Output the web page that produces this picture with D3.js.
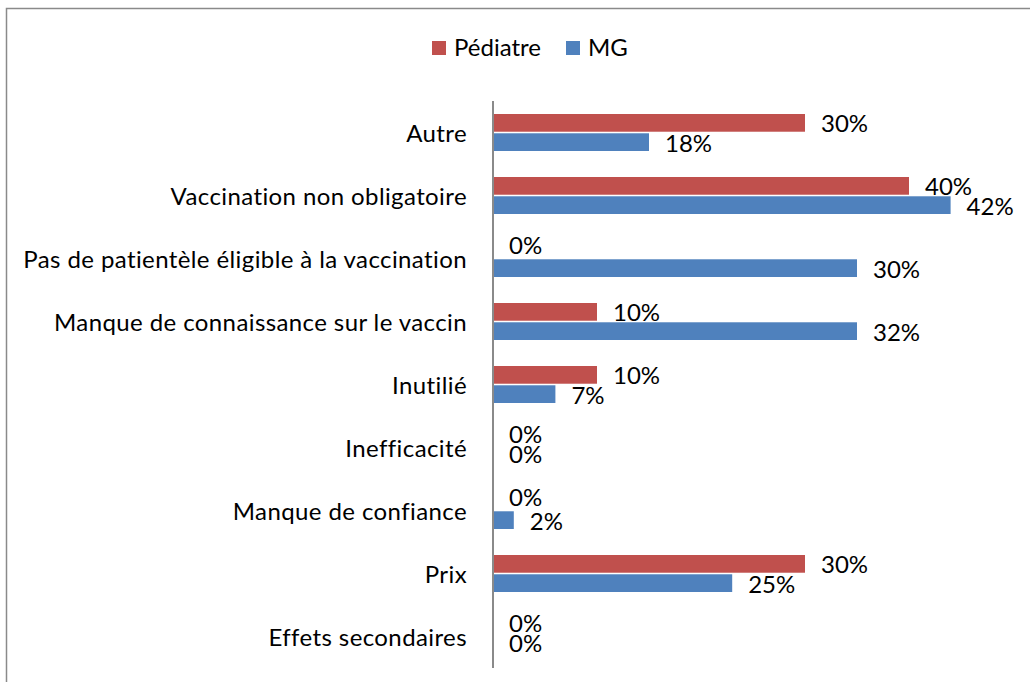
<!DOCTYPE html>
<html lang="fr">
<head>
	<meta charset="UTF-8">
	<title>Pédiatre / MG</title>
	<script src="https://cdn.jsdelivr.net/npm/d3@7"></script>
	<style>
		html,body{
			margin:0;
			padding:0;
			background:#fff;
		}
		svg{
			display:block;
			font-family:Lato, "Open Sans", sans-serif;
		}
	</style>
</head>
<body>
	<svg id="svg" width="1030" height="682"></svg>
	<script>
		// categories, top to bottom
		var categories = [
			"Autre",
			"Vaccination non obligatoire",
			"Pas de patientèle éligible à la vaccination",
			"Manque de connaissance sur le vaccin",
			"Inutilié",
			"Inefficacité",
			"Manque de confiance",
			"Prix",
			"Effets secondaires"
		];
		var series = ["Pédiatre", "MG"];
		var colors = ["#C0504D", "#4F81BD"];

		// bar lengths as drawn (percent)
		var pediatre = [30, 40, 0, 10, 10, 0, 0, 30, 0];
		var mg = [15, 44, 35, 35, 6, 0, 2, 23, 0];

		// data labels as printed on the chart
		var pediatreLabels = ["30%", "40%", "0%", "10%", "10%", "0%", "0%", "30%", "0%"];
		var mgLabels = ["18%", "42%", "30%", "32%", "7%", "0%", "2%", "25%", "0%"];

		var FS = 24;

		(function(){
			var svg = d3.select("#svg");

			// chart frame
			svg.append("rect")
				.attr("x", 6.5).attr("y", 8.5)
				.attr("width", 1100).attr("height", 800)
				.attr("fill", "none")
				.attr("stroke", "#8a8a8a")
				.attr("stroke-width", 1.5);

			var x0 = 493, y0 = 101, y1 = 668;

			var x = d3.scaleLinear().domain([0, 10]).range([x0, x0 + 104]);
			var y = d3.scaleBand().domain(categories).range([y0, y1]);
			var inner = d3.scaleBand().domain(series).range([13, 50]).paddingInner(3 / 37);

			var rows = categories.map(function(c, i){
				return {
					cat: c,
					vals: [
						{s: series[0], v: pediatre[i], label: pediatreLabels[i], color: colors[0]},
						{s: series[1], v: mg[i], label: mgLabels[i], color: colors[1]}
					]
				};
			});

			var rowG = svg.append("g").selectAll("g.row")
				.data(rows)
				.enter().append("g")
				.attr("class", "row")
				.attr("transform", function(d){ return "translate(0," + y(d.cat) + ")"; });

			rowG.selectAll("rect")
				.data(function(d){ return d.vals; })
				.enter().append("rect")
				.attr("x", x(0))
				.attr("y", function(d){ return inner(d.s); })
				.attr("width", function(d){ return x(d.v) - x(0); })
				.attr("height", inner.bandwidth())
				.attr("fill", function(d){ return d.color; });

			rowG.selectAll("text.val")
				.data(function(d){ return d.vals; })
				.enter().append("text")
				.attr("class", "val")
				.attr("x", function(d){ return x(d.v) + 16; })
				.attr("y", function(d){ return inner(d.s) + inner.bandwidth() / 2 + (d.v === 0 ? -3 : 1); })
				.attr("dy", "0.35em")
				.attr("font-size", FS)
				.attr("fill", "#000")
				.text(function(d){ return d.label; });

			// category axis
			var axis = d3.axisLeft(y).tickSize(0).tickPadding(26);
			var axisG = svg.append("g")
				.attr("transform", "translate(" + x0 + ",0)")
				.call(axis);
			axisG.select(".domain")
				.attr("d", "M0," + y0 + "V" + y1)
				.attr("stroke", "#8a8a8a")
				.attr("stroke-width", 2);
			axisG.selectAll(".tick text")
				.attr("font-family", "Lato, 'Open Sans', sans-serif")
				.attr("font-size", FS)
				.attr("letter-spacing", "0.4px")
				.attr("dy", "0.4em")
				.attr("fill", "#000");

			// legend
			var legend = svg.append("g").attr("transform", "translate(432,41)");
			var lx = [0, 134];
			series.forEach(function(s, i){
				var lg = legend.append("g").attr("transform", "translate(" + lx[i] + ",0)");
				lg.append("rect")
					.attr("width", 14).attr("height", 14)
					.attr("fill", colors[i]);
				lg.append("text")
					.attr("x", 22).attr("y", 7)
					.attr("dy", "0.35em")
					.attr("font-size", FS)
					.text(s);
			});
		})();
	</script>
</body>
</html>
